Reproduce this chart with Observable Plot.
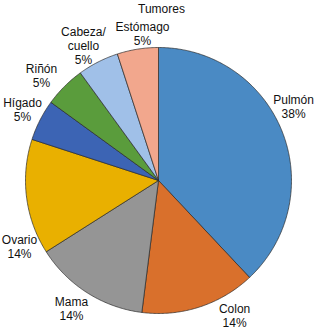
<!DOCTYPE html>
<html>
<head>
<meta charset="utf-8">
<script src="https://cdn.jsdelivr.net/npm/d3@7"></script>
<script src="https://cdn.jsdelivr.net/npm/@observablehq/plot@0.6"></script>
<style>
  html, body { margin: 0; padding: 0; background: #fff; }
  svg { display: block; }
</style>
</head>
<body>
<div id="chart"></div>
<script>
// Data
const categories = ["Pulmón", "Colon", "Mama", "Ovario", "Hígado", "Riñón", "Cabeza/\ncuello", "Estómago"];
const values = [38, 14, 14, 14, 5, 5, 5, 5];
const colors = ["#4a8ac4", "#d9702c", "#959595", "#e9b000", "#3c64b4", "#5a9c3c", "#a0c0e8", "#f2a78d"];
const title = "Tumores";

// Layout
const W = 320, H = 331;
const cx = 158, cy = 180, R = 133;          // pixel layout of the pie
const labelRadius = [1.158, 1.165, 1.164, 1.157, 1.155, 1.18, 1.161, 1.112]; // in units of pie radius
const labelNudge = [-7.1, -11.4, 1.8, -18.2, 0.7, -3.2, -2.1, 2.8];          // degrees from mid-angle

const total = d3.sum(values);
const pie = d3.pie().sort(null).value(d => d)(values);

// slice polygons (unit radius, angle clockwise from 12 o'clock)
const poly = [];
pie.forEach((p, i) => {
  const n = Math.max(2, Math.ceil((p.endAngle - p.startAngle) / 0.01));
  poly.push({name: categories[i], color: colors[i], x: 0, y: 0});
  for (let k = 0; k <= n; k++) {
    const a = p.startAngle + (p.endAngle - p.startAngle) * k / n;
    poly.push({name: categories[i], color: colors[i], x: Math.sin(a), y: Math.cos(a)});
  }
  poly.push({name: categories[i], color: colors[i], x: 0, y: 0});
});

const labels = pie.map((p, i) => {
  const a = (p.startAngle + p.endAngle) / 2 + labelNudge[i] * Math.PI / 180;
  return {
    text: categories[i] + "\n" + Math.round(values[i] / total * 100) + "%",
    x: labelRadius[i] * Math.sin(a),
    y: labelRadius[i] * Math.cos(a)
  };
});

const chart = Plot.plot({
  width: W,
  height: H,
  margin: 0,
  style: {fontFamily: "'Liberation Sans', Arial, Helvetica, sans-serif", fontSize: "12px", background: "#fff"},
  x: {domain: [-cx / R, (W - cx) / R], axis: null},
  y: {domain: [-(H - cy) / R, cy / R], axis: null},
  marks: [
    Plot.line(poly, {x: "x", y: "y", z: "name", fill: "color", stroke: "#2a2a2a", strokeWidth: 0.7, strokeLinejoin: "round", curve: "linear"}),
    Plot.text(labels, {x: "x", y: "y", text: "text", fill: "#111", fontSize: 12, lineHeight: 1.17, lineAnchor: "middle", textAnchor: "middle"}),
    Plot.text([title], {frameAnchor: "top", dx: 1, dy: 4, fontSize: 12, fill: "#111", lineAnchor: "top"})
  ]
});

document.getElementById("chart").appendChild(chart);
</script>
</body>
</html>
